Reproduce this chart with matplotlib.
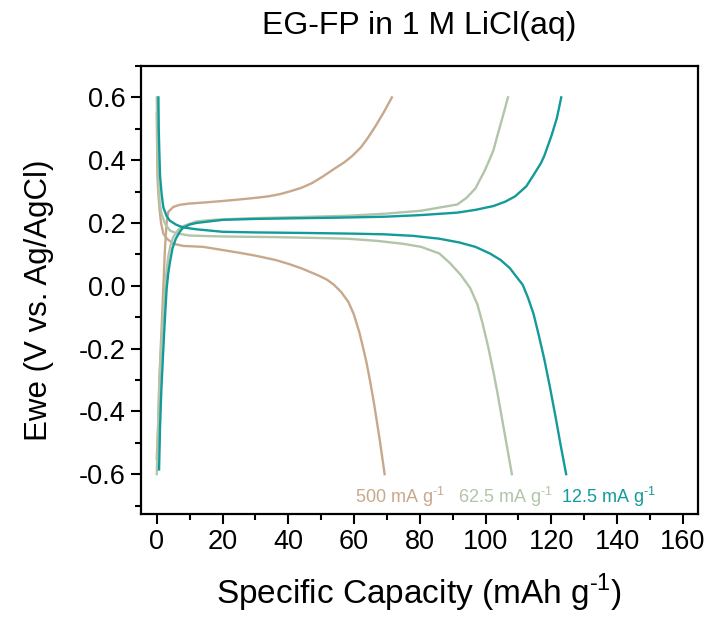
import matplotlib
matplotlib.use("Agg")
import matplotlib.pyplot as plt
from matplotlib.ticker import MultipleLocator

plt.rcParams['font.family'] = ['Liberation Sans', 'DejaVu Sans']
plt.rcParams['mathtext.fontset'] = 'custom'
plt.rcParams['mathtext.rm'] = 'Liberation Sans'
plt.rcParams['axes.unicode_minus'] = False

# 500 mA g-1
cap_500_dis = [0, 0.1, 0.2, 0.5, 0.8, 1.3, 2, 3.1, 5, 8, 14.1, 20, 25.2, 30, 36.2, 40, 43.9,
               48.9, 51.7, 53.9, 56.1, 58.3, 59.9, 61.6, 62.7, 63.8, 64.9, 66, 67.7, 69.3]
v_500_dis = [0.55, 0.45, 0.35, 0.29, 0.25, 0.2, 0.166, 0.15, 0.134, 0.127, 0.124, 0.114, 0.105,
             0.096, 0.082, 0.07, 0.056, 0.034, 0.02, 0.003, -0.02, -0.052, -0.09, -0.148,
             -0.195, -0.245, -0.305, -0.37, -0.483, -0.6]
cap_500_ch = [0, 0.4, 0.8, 1.2, 1.7, 2.1, 2.5, 3, 3.5, 5, 7, 10, 14.1, 20, 25.2, 30, 34, 37.5,
              40.6, 44, 47.2, 50.5, 53.9, 57, 59.4, 62, 64, 66.5, 69, 71.5]
v_500_ch = [-0.55, -0.45, -0.3, -0.2, -0.08, 0.02, 0.12, 0.2, 0.235, 0.251, 0.258, 0.262, 0.265,
            0.27, 0.275, 0.28, 0.285, 0.292, 0.301, 0.312, 0.327, 0.348, 0.372, 0.393, 0.413,
            0.44, 0.468, 0.508, 0.552, 0.6]

# 62.5 mA g-1
cap_62_dis = [0, 0.15, 0.3, 0.6, 1, 1.5, 2.5, 4, 6, 10, 20, 36, 50, 58, 67, 74.8, 80.4, 85.9,
              89.2, 92.5, 95.3, 97.5, 99.1, 100.8, 102.4, 103.5, 104.6, 106.3, 108]
v_62_dis = [0.6, 0.5, 0.4, 0.3, 0.255, 0.228, 0.198, 0.176, 0.167, 0.16, 0.157, 0.155, 0.152,
            0.15, 0.143, 0.134, 0.124, 0.103, 0.072, 0.034, -0.007, -0.059, -0.12, -0.195,
            -0.275, -0.335, -0.4, -0.5, -0.6]
cap_62_ch = [0, 0.4, 0.8, 1.3, 2, 2.5, 3, 3.5, 4.2, 5, 6.5, 8, 12, 17, 28, 40, 58, 70, 80.4,
             85.9, 91.4, 94.2, 96.9, 99.7, 101.3, 102.4, 103.5, 105.2, 106.8]
v_62_ch = [-0.6, -0.45, -0.3, -0.2, -0.08, -0.01, 0.05, 0.093, 0.13, 0.155, 0.178, 0.19, 0.205,
           0.21, 0.215, 0.218, 0.223, 0.23, 0.239, 0.249, 0.259, 0.28, 0.31, 0.366, 0.404,
           0.432, 0.475, 0.538, 0.6]

# 12.5 mA g-1
cap_12_dis = [0.5, 0.6, 0.8, 1, 1.5, 2, 3, 4, 6, 8, 12, 20, 30, 47, 60, 69, 78, 85.9, 92,
              96.9, 101.3, 104.6, 107.4, 109, 111.3, 112.9, 114.6, 116.3, 117.9, 119.5, 121.2,
              122.8, 124.5]
v_12_dis = [0.6, 0.5, 0.42, 0.35, 0.29, 0.25, 0.222, 0.207, 0.194, 0.186, 0.18, 0.172, 0.17,
            0.168, 0.166, 0.164, 0.159, 0.15, 0.138, 0.124, 0.103, 0.082, 0.056, 0.034, 0.003,
            -0.038, -0.09, -0.163, -0.236, -0.319, -0.413, -0.506, -0.6]
cap_12_ch = [0.7, 1, 1.4, 2, 2.5, 3, 3.5, 4, 4.8, 5.8, 7, 8, 10, 12, 20, 30, 41.7, 55, 69.3,
             80, 91.4, 97, 102.4, 106, 109, 112.4, 114.6, 116.8, 117.9, 120.1, 121.7, 123]
v_12_ch = [-0.585, -0.45, -0.33, -0.2, -0.1, -0.01, 0.04, 0.075, 0.12, 0.15, 0.172, 0.185,
           0.195, 0.2, 0.21, 0.213, 0.215, 0.217, 0.22, 0.225, 0.233, 0.242, 0.254, 0.268,
           0.285, 0.317, 0.353, 0.39, 0.415, 0.48, 0.535, 0.6]

rate_labels = [r'500 mA g$^{\text{-1}}$', r'62.5 mA g$^{\text{-1}}$', r'12.5 mA g$^{\text{-1}}$']
label_x = [60.4, 91.5, 122.8]
colors = ['#C8A88B', '#B2C4A9', '#139A9A']

fig = plt.figure(figsize=(7.07, 6.17), dpi=100)
ax = fig.add_axes([0.1994, 0.1669, 0.7874, 0.7261])

curves = [(cap_500_dis, v_500_dis, cap_500_ch, v_500_ch),
          (cap_62_dis, v_62_dis, cap_62_ch, v_62_ch),
          (cap_12_dis, v_12_dis, cap_12_ch, v_12_ch)]
for (cd, vd, cc, vc), col in zip(curves, colors):
    ax.plot(cd, vd, color=col, lw=1.7)
    ax.plot(cc, vc, color=col, lw=1.7)

for lab, x, col in zip(rate_labels, label_x, colors):
    ax.text(x, -0.672, lab, color=col, fontsize=13, ha='left', va='center')

ax.set_xlim(-4.8, 164.5)
ax.set_ylim(-0.727, 0.70)
ax.xaxis.set_major_locator(MultipleLocator(20))
ax.xaxis.set_minor_locator(MultipleLocator(10))
ax.yaxis.set_major_locator(MultipleLocator(0.2))
ax.yaxis.set_minor_locator(MultipleLocator(0.1))
ax.tick_params(which='major', direction='out', length=7, width=1.5, labelsize=19.5, pad=4)
ax.tick_params(which='minor', direction='out', length=4, width=1.5)
for s in ax.spines.values():
    s.set_linewidth(1.6)

ax.set_xlabel(r'Specific Capacity (mAh g$^{\text{-1}}$)', fontsize=24, labelpad=12)
ax.set_ylabel('Ewe (V vs. Ag/AgCl)', fontsize=22.5, labelpad=18)
ax.yaxis.label.set_y(0.478)
ax.set_title('EG-FP in 1 M LiCl(aq)', fontsize=23, pad=23)

fig.savefig('out.png', dpi=100)
